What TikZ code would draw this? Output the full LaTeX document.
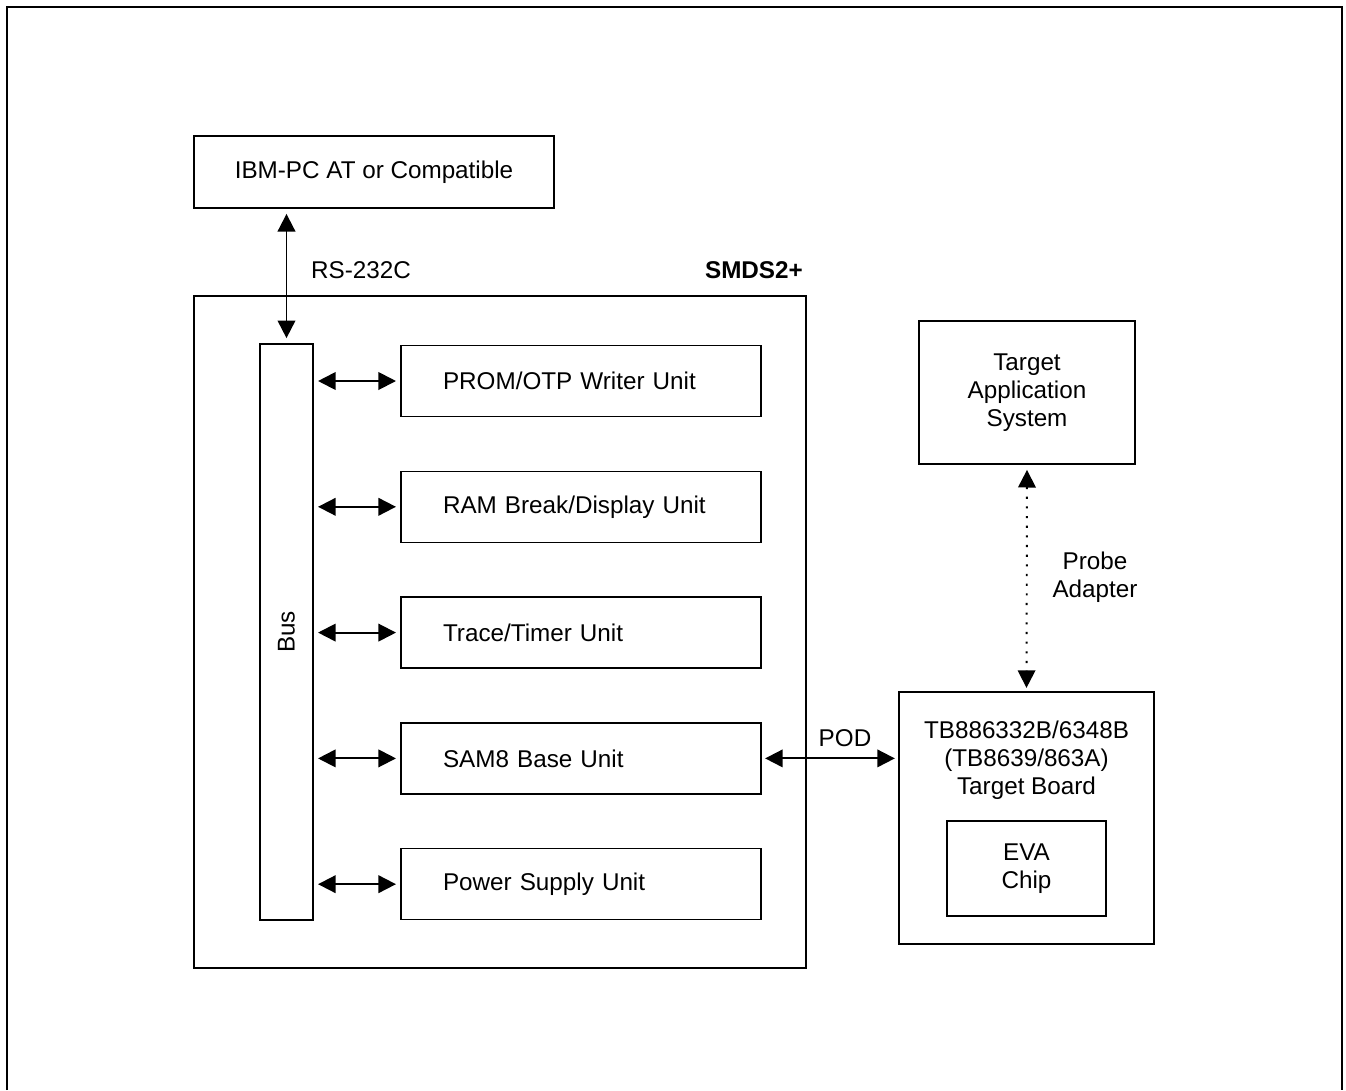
\documentclass[tikz,border=0pt]{standalone}
\usepackage{fontspec}
\setmainfont{Liberation Sans}
\usepackage{tikz}
\usetikzlibrary{positioning}
\usetikzlibrary{arrows.meta}

\begin{document}
\begin{tikzpicture}[
  x=0.02cm, y=-0.02cm,
  every node/.style={font=\fontsize{13.8}{15.9}\selectfont},
  box/.style={rectangle, draw=black, line width=0.75pt, inner sep=0pt},
  unit/.style={box, minimum width=7.2cm, minimum height=1.42cm, text width=5.52cm, align=left, inner xsep=0.84cm},
  link/.style={line width=1.1pt, {Triangle[length=10pt, width=10pt]}-{Triangle[length=10pt, width=10pt]}},
]
  \useasboundingbox (0,0) rectangle (1346,1090);
  \draw[line width=1.2pt] (7,1090) -- (7,7) -- (1342,7) -- (1342,1090);

  \node[box, minimum width=7.2cm, minimum height=1.44cm] (ibm) at (374,172) {IBM-PC AT or Compatible};

  % emulator box
  \node[box, minimum width=12.24cm, minimum height=13.44cm] (smds) at (500,632) {};
  \node[anchor=east, font=\fontsize{13.8}{15.9}\selectfont\bfseries] (smdslbl) at (809,270) {SMDS2+};

  \node[box, minimum width=1.06cm, minimum height=11.52cm] (bus) at (286.5,632) {};
  \node[rotate=90] (buslbl) at (bus.center) {Bus};

  \node[unit] (prom) at (581,381) {PROM/OTP Writer Unit};
  \node[unit] (ram) [below=1.07cm of prom] {RAM Break/Display Unit};
  \node[unit] (trace) [below=1.07cm of ram] {Trace/Timer Unit};
  \node[unit] (sam) [below=1.07cm of trace] {SAM8 Base Unit};
  \node[unit] (power) [below=1.07cm of sam] {Power Supply Unit};

  % target side
  \node[box, minimum width=4.32cm, minimum height=2.86cm, align=center] (app) at (1027,392.5) {Target\\Application\\System};
  \node[box, minimum width=5.1cm, minimum height=5.04cm] (board) at (1026.5,818) {};
  \node[align=center] (boardlbl) at (1026.5,760) {TB886332B/6348B\\(TB8639/863A)\\Target Board};
  \node[box, minimum width=3.18cm, minimum height=1.9cm, align=center] (eva) at (1026.5,868.5) {EVA\\Chip};

  \draw[link, shorten <=3pt, shorten >=3pt] (bus.north |- ibm.south) -- (bus.north);
  \node[anchor=west] (rs) at (305,270) {RS-232C};

  \foreach \u in {prom, ram, trace, sam, power}
    \draw[link, shorten <=2.5pt, shorten >=2.5pt] (bus.east |- \u.west) -- (\u.west);

  \draw[link, shorten <=2pt, shorten >=2pt] (sam.east) -- (board.west |- sam.east);
  \node (pod) at (845,738) {POD};

  \draw[link, dash pattern=on 1.2pt off 4.3pt, shorten <=3pt, shorten >=2pt] (app.south) -- (board.north);
  \node[align=center] (probe) at (1095,577) {Probe\\Adapter};
\end{tikzpicture}
\end{document}
